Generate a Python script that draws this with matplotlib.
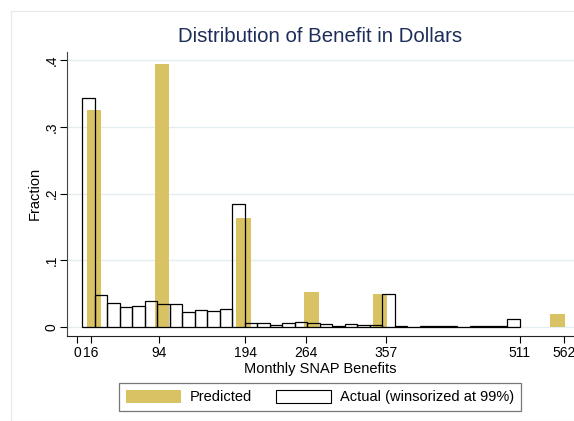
import numpy as np
import matplotlib
matplotlib.use("Agg")
import matplotlib.pyplot as plt
from matplotlib.patches import Patch, Rectangle

# Actual benefits: 35 equal bins starting at $6
actual_start = 6.0
actual_width = 14.43
actual_frac = [0.343, 0.048, 0.0355, 0.0295, 0.031, 0.0385, 0.0345, 0.0345,
               0.0225, 0.026, 0.0235, 0.027, 0.184, 0.0055, 0.0055, 0.0035,
               0.0055, 0.0072, 0.0065, 0.004, 0.002, 0.004, 0.003, 0.0025,
               0.050, 0.001, 0.0, 0.0008, 0.0015, 0.0008, 0.0003, 0.001,
               0.001, 0.001, 0.0115]

# Predicted benefits: occupied bins only
pred_centers = [19.25, 97.95, 191.95, 270.45, 349.45, 554.45]
pred_width = 16.3
pred_frac = [0.3255, 0.394, 0.1635, 0.052, 0.049, 0.019]

xticks = [0, 16, 94, 194, 264, 357, 511, 562]
yticks = [0, 0.1, 0.2, 0.3, 0.4]
ytick_labels = ['0', '.1', '.2', '.3', '.4']

gold = '#D8C263'
navy = '#1C2D5A'

plt.rcParams['font.family'] = ['Liberation Sans', 'DejaVu Sans']

fig = plt.figure(figsize=(5.74, 4.21), dpi=100)
W, H = 574.0, 421.0

# faint outer graph-region frame
fig.patches.append(Rectangle((11 / W, 0), 1.2, 1 - 11 / H, transform=fig.transFigure,
                             facecolor='none', edgecolor='#E8E8E8', linewidth=0.8))

ax = fig.add_axes([67.3 / W, 1 - 336 / H, 1 - 67.3 / W, (336 - 51.7) / H])
ax.set_xlim(-11.55, 573.5)
ax.set_ylim(-0.0135, 0.4129)

ax.bar(pred_centers, pred_frac, width=pred_width, color=gold, edgecolor='none', zorder=2)

actual_left = actual_start + actual_width * np.arange(len(actual_frac))
ax.bar(actual_left, actual_frac, width=actual_width, align='edge',
       facecolor='none', edgecolor='black', linewidth=0.9, zorder=3)

for sp in ['top', 'right']:
    ax.spines[sp].set_visible(False)
ax.spines['left'].set_color('#444444')
ax.spines['bottom'].set_color('#222222')

ax.set_yticks(yticks)
ax.set_yticklabels(ytick_labels, rotation=90, va='center')
ax.set_xticks(xticks)
ax.tick_params(axis='both', direction='out', length=5, width=0.8, labelsize=10)
ax.tick_params(axis='y', pad=1.2)
ax.tick_params(axis='x', pad=2.5)
ax.yaxis.grid(True, color='#E4EEF1', linewidth=1.0)
ax.set_axisbelow(True)

ax.set_ylabel('Fraction', fontsize=10.5, labelpad=2)
ax.set_xlabel('Monthly SNAP Benefits', fontsize=10.5, labelpad=1.5)

fig.text(320 / W, 1 - 36 / H, 'Distribution of Benefit in Dollars',
         ha='center', va='center', fontsize=14.7, color=navy)

handles = [Patch(facecolor=gold, edgecolor='none', label='Predicted'),
           Patch(facecolor='white', edgecolor='black', linewidth=0.8,
                 label='Actual (winsorized at 99%)')]
leg = fig.legend(handles=handles, loc='center', ncol=2,
                 bbox_to_anchor=(320 / W, 1 - 397 / H), bbox_transform=fig.transFigure,
                 fontsize=10.5, frameon=True, fancybox=False, edgecolor='#555555',
                 handlelength=3.8, handleheight=1.05, handletextpad=0.6,
                 columnspacing=1.6, borderpad=0.45, borderaxespad=0)
leg.get_frame().set_linewidth(0.9)

fig.savefig('out.png', dpi=100)
